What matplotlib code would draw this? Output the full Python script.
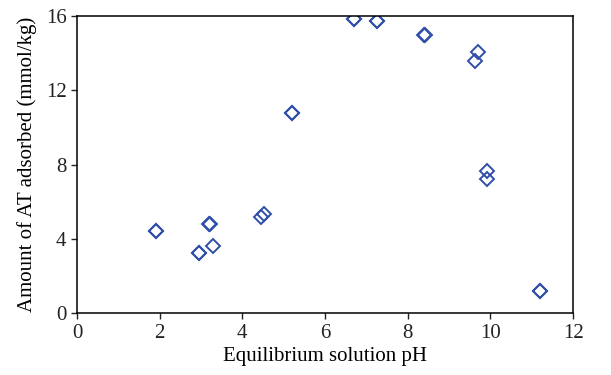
import matplotlib.pyplot as plt

# Equilibrium pH vs amount of AT adsorbed (duplicate runs overlap)
ph = [1.9, 1.9, 2.94, 2.96, 3.2, 3.22, 3.29, 4.46, 4.52, 5.2, 5.21,
      6.7, 6.71, 7.25, 7.26, 8.4, 8.41, 9.62, 9.7, 9.92, 9.92, 11.2, 11.21]
adsorbed = [4.43, 4.43, 3.22, 3.26, 4.79, 4.82, 3.63, 5.19, 5.32, 10.78, 10.8,
            15.86, 15.86, 15.72, 15.72, 15.0, 15.0, 13.6, 14.07, 7.2, 7.68, 1.18, 1.2]

x_ticks = [0, 2, 4, 6, 8, 10, 12]
y_ticks = [0, 4, 8, 12, 16]

plt.rcParams['font.family'] = ['Liberation Serif', 'DejaVu Serif']

fig = plt.figure(figsize=(6.11, 3.75), dpi=100)
ax = fig.add_axes([0.126, 0.165, 0.812, 0.792])

ax.plot(ph, adsorbed, linestyle='none', marker='D', markersize=6.8,
        markerfacecolor='none', markeredgecolor='#2f4fa8', markeredgewidth=1.4)

ax.set_xlim(0, 12)
ax.set_ylim(0, 16)
ax.set_xticks(x_ticks)
ax.set_yticks(y_ticks)
ax.tick_params(direction='out', length=4, width=1, labelsize=15, colors='#222222')
for side in ['left', 'right', 'top', 'bottom']:
    ax.spines[side].set_linewidth(1.1)

ax.set_xlabel('Equilibrium solution pH', fontsize=15, labelpad=3)
ax.set_ylabel('Amount of AT adsorbed (mmol/kg)', fontsize=15, labelpad=6)

fig.savefig('out.png', dpi=100)
